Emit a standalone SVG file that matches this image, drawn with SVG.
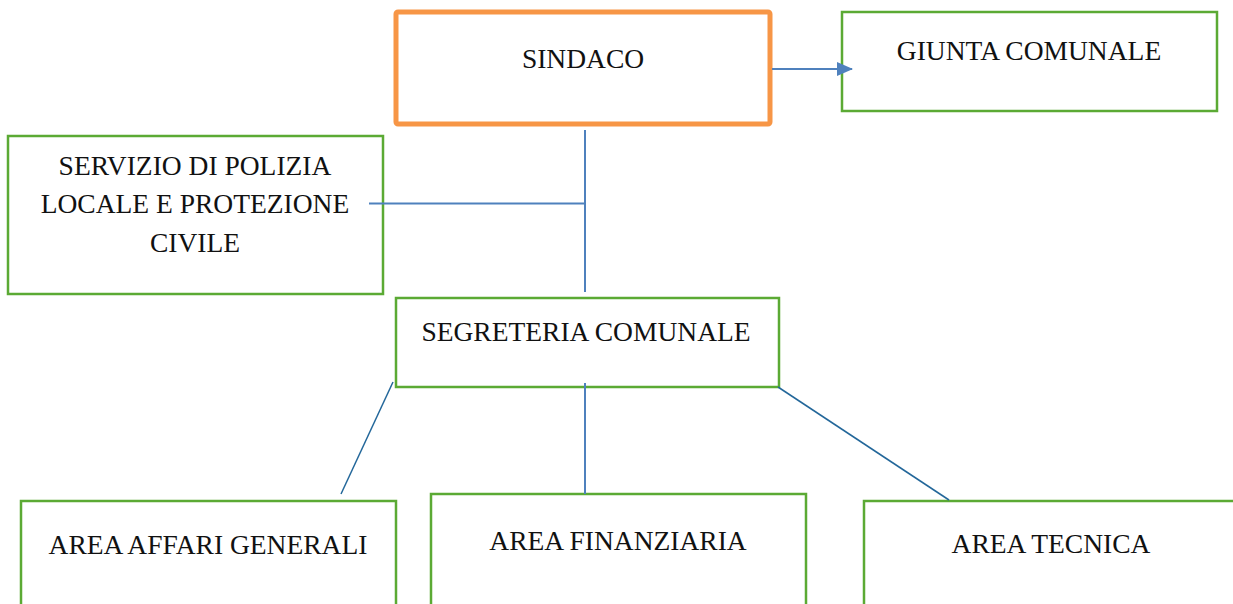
<svg xmlns="http://www.w3.org/2000/svg" width="1233" height="604" viewBox="0 0 1233 604">
<defs>
<style>
.box{fill:#fff;stroke:#5BAA34;stroke-width:2.5}
.lbl{font-family:"Liberation Serif","DejaVu Serif",serif;font-size:27.5px;fill:#111;text-anchor:middle}
.c1{stroke:#4F81BD;stroke-width:2;fill:none}
.c2{stroke:#23679A;stroke-width:1.5;fill:none}
</style>
<marker id="arrow" viewBox="0 0 16 14" refX="15" refY="7" markerWidth="16" markerHeight="14" markerUnits="userSpaceOnUse" orient="auto">
<path d="M0,0 L16,7 L0,14 z" fill="#4F81BD"/>
</marker>
</defs>
<g id="sindaco">
<rect x="396" y="12" width="374" height="112" rx="2" fill="#fff" stroke="#F79646" stroke-width="5"/>
<text class="lbl" x="583" y="68">SINDACO</text>
</g>
<g id="giunta">
<rect class="box" x="842" y="12" width="375" height="99"/>
<text class="lbl" x="1029" y="60">GIUNTA COMUNALE</text>
</g>
<g id="polizia">
<rect class="box" x="8" y="136" width="375" height="158"/>
<text class="lbl" x="195" y="175">SERVIZIO DI POLIZIA</text>
<text class="lbl" x="195" y="213">LOCALE E PROTEZIONE</text>
<text class="lbl" x="195" y="252">CIVILE</text>
</g>
<g id="segreteria">
<rect class="box" x="396" y="298" width="383" height="89"/>
<text class="lbl" x="586" y="341">SEGRETERIA COMUNALE</text>
</g>
<g id="affari">
<rect class="box" x="21" y="501" width="375" height="120"/>
<text class="lbl" x="208" y="554">AREA AFFARI GENERALI</text>
</g>
<g id="finanziaria">
<rect class="box" x="431" y="494" width="375" height="127"/>
<text class="lbl" x="618" y="550">AREA FINANZIARIA</text>
</g>
<g id="tecnica">
<rect class="box" x="864" y="501" width="380" height="120"/>
<text class="lbl" x="1051" y="553">AREA TECNICA</text>
</g>
<g id="connectors">
<line class="c1" x1="772" y1="69" x2="852" y2="69" marker-end="url(#arrow)"/>
<line class="c1" x1="585" y1="130" x2="585" y2="292"/>
<line class="c1" x1="369" y1="203.5" x2="585" y2="203.5"/>
<line class="c1" x1="585" y1="383" x2="585" y2="494"/>
<line class="c2" x1="393" y1="382" x2="341" y2="494"/>
<line class="c2" x1="778" y1="387" x2="949" y2="500"/>
</g>
</svg>
